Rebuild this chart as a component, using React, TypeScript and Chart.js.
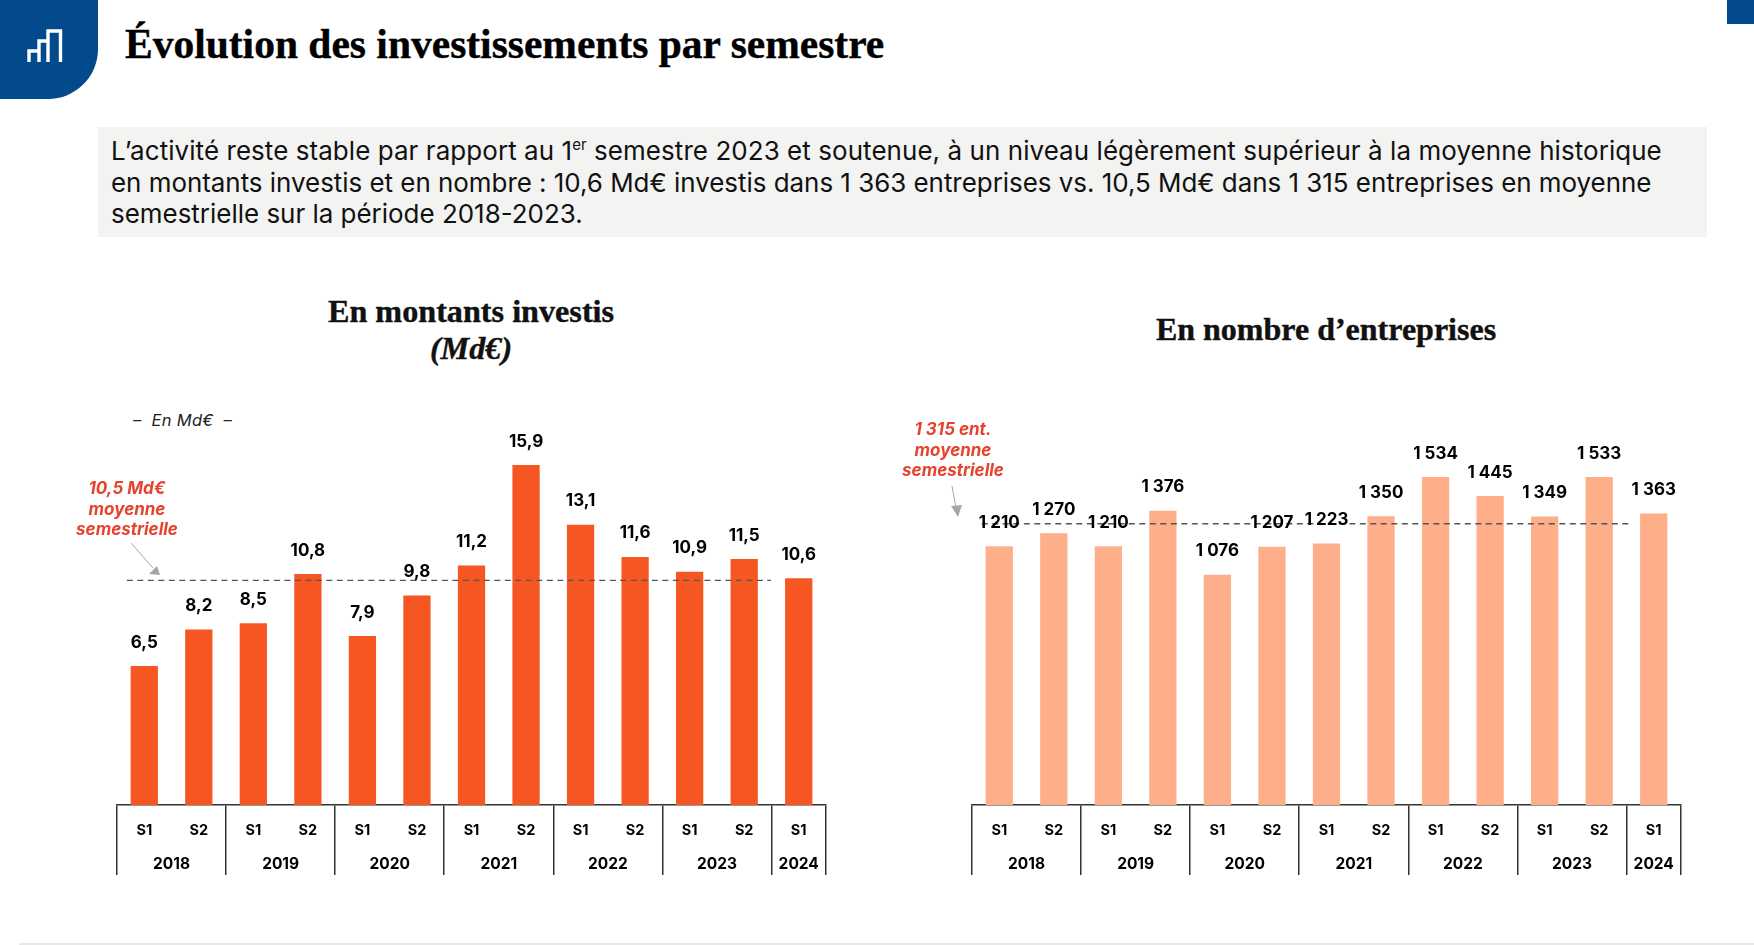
import React, { useEffect, useRef } from "react";
import { Chart, registerables } from "chart.js";

Chart.register(...registerables);

const semesters = ["S1","S2","S1","S2","S1","S2","S1","S2","S1","S2","S1","S2","S1"];
const years = ["2018","2019","2020","2021","2022","2023","2024"];
const semestersPerYear = [2,2,2,2,2,2,1];
const amounts = [6.5,8.2,8.5,10.8,7.9,9.8,11.2,15.9,13.1,11.6,10.9,11.5,10.6];
const companies = [1210,1270,1210,1376,1076,1207,1223,1350,1534,1445,1349,1533,1363];
const amountAverage = 10.5;
const companyAverage = 1315;
const amountAvgSpan = [-0.32, 11.49];
const companyAvgSpan = [-0.32, 11.55];

const UI = "Inter, 'Noto Sans', sans-serif";
const SERIF = "'Liberation Serif', serif";

const frAmount = (v: number) => v.toFixed(1).replace(".", ",");
const frCount = (v: number) => { const s = String(v); return s.length > 3 ? s.slice(0, -3) + " " + s.slice(-3) : s; };

function BarChart(props: { values: number[]; color: string; max: number; average: number; span: number[]; fmt: (v: number) => string; left: number; width: number; padLeft: number; padRight: number }) {
  const ref = useRef<HTMLCanvasElement | null>(null);
  useEffect(() => {
    const { values, color, max, average, span, fmt, padLeft, padRight } = props;
    const overlay = {
      id: "overlay",
      afterDatasetsDraw(chart: any) {
        const { ctx, scales } = chart;
        ctx.save();
        ctx.fillStyle = "#000";
        ctx.textAlign = "center";
        ctx.textBaseline = "middle";
        ctx.font = `700 17px ${UI}`;
        values.forEach((v, i) => {
          ctx.fillText(fmt(v), scales.x.getPixelForValue(i), scales.y.getPixelForValue(v) - 23.5);
        });
        ctx.font = `700 15.5px ${UI}`;
        let start = 0;
        const base = scales.y.getPixelForValue(0);
        years.forEach((y, k) => {
          const n = semestersPerYear[k];
          const mid = (scales.x.getPixelForValue(start) + scales.x.getPixelForValue(start + n - 1)) / 2;
          ctx.fillText(y, mid, base + 59);
          start += n;
        });
        ctx.restore();
      },
    };
    const chart = new Chart(ref.current!, {
      type: "bar",
      data: {
        labels: semesters,
        datasets: [
          { type: "line", order: 0, xAxisID: "xAvg", data: [{ x: span[0], y: average }, { x: span[1], y: average }], borderColor: "#555", borderWidth: 1.4, borderDash: [6, 4.5], pointRadius: 0, fill: false } as any,
          { type: "bar", order: 1, xAxisID: "x", grouped: false, data: values, backgroundColor: color, barPercentage: 0.5, categoryPercentage: 1 } as any,
        ],
      },
      options: {
        animation: false,
        responsive: false,
        layout: { autoPadding: false, padding: { left: padLeft, right: padRight, top: 0, bottom: 15 } },
        plugins: { legend: { display: false }, tooltip: { enabled: false } },
        scales: {
          x: {
            type: "category",
            offset: true,
            afterFit: (s: any) => { s.height = 70; },
            border: { display: true, color: "#333", width: 1.5 },
            grid: {
              offset: true,
              drawOnChartArea: false,
              drawTicks: true,
              tickLength: 70,
              lineWidth: 1.5,
              tickWidth: 1.5,
              tickColor: (c: any) => (c.index === undefined || c.index % 2 === 0 ? "#333" : "rgba(0,0,0,0)"),
            },
            ticks: { autoSkip: false, maxRotation: 0, padding: -53, color: "#000", font: { family: UI, size: 14.5, weight: 700 } },
          },
          xAvg: { type: "linear", display: false, offset: false, min: -0.5, max: 12.5 },
          y: { display: false, min: 0, max },
        },
      } as any,
      plugins: [overlay],
    });
    return () => chart.destroy();
  }, []);
  return <canvas ref={ref} width={props.width} height={470} style={{ position: "absolute", left: props.left, top: 420, width: props.width, height: 470 }} />;
}

const abs = (s: React.CSSProperties): React.CSSProperties => ({ position: "absolute", ...s });
const noteStyle: React.CSSProperties = { fontFamily: UI, fontStyle: "italic", fontWeight: 700, fontSize: 17, lineHeight: "20.5px", color: "#E5432E", textAlign: "center", width: 180 };
const headStroke: React.CSSProperties = { WebkitTextStroke: "0.4px currentColor" } as any;

export default function App() {
  useEffect(() => { document.body.style.margin = "0"; document.body.style.background = "#fff"; }, []);
  return (
    <div style={abs({ left: 0, top: 0, width: 1754, height: 945, overflow: "hidden", background: "#fff" })}>
      <div style={abs({ left: 0, top: 0, width: 98, height: 99, background: "#034A8C", borderBottomRightRadius: 50 })} />
      <svg style={abs({ left: 0, top: 0, width: 98, height: 99 })} viewBox="0 0 98 99">
        <path d="M29 62V51H39M39 62V41H48M48 62V31H60.5V62" fill="none" stroke="#fff" strokeWidth="3.4" />
      </svg>
      <div style={abs({ left: 1727, top: 0, width: 27, height: 24, background: "#034A8C" })} />
      <div style={abs({ left: 125, top: 17, fontFamily: SERIF, fontWeight: 700, fontSize: 41.5, lineHeight: "54px", color: "#000", whiteSpace: "nowrap", ...headStroke })}>Évolution des investissements par semestre</div>
      <div style={abs({ left: 98, top: 127, width: 1609, height: 110, background: "#F3F3F2" })} />
      <div style={abs({ left: 111, top: 135, fontFamily: UI, fontSize: 25.95, lineHeight: "31.7px", color: "#111", whiteSpace: "nowrap" })}>
        <div style={{ letterSpacing: "0.08px" }}>L’activité reste stable par rapport au 1<sup style={{ fontSize: 15, lineHeight: 0 }}>er</sup> semestre 2023 et soutenue, à un niveau légèrement supérieur à la moyenne historique</div>
        <div style={{ letterSpacing: "-0.02px" }}>en montants investis et en nombre : 10,6 Md€ investis dans 1 363 entreprises vs. 10,5 Md€ dans 1 315 entreprises en moyenne</div>
        <div>semestrielle sur la période 2018-2023.</div>
      </div>
      <div style={abs({ left: 171, top: 293, width: 600, textAlign: "center", fontFamily: SERIF, fontWeight: 700, fontSize: 32.2, lineHeight: "37px", color: "#111", ...headStroke })}>
        <div>En montants investis</div>
        <div style={{ fontStyle: "italic" }}>(Md€)</div>
      </div>
      <div style={abs({ left: 1026, top: 311, width: 600, textAlign: "center", fontFamily: SERIF, fontWeight: 700, fontSize: 32, lineHeight: "37px", color: "#111", ...headStroke })}>En nombre d’entreprises</div>
      <div style={abs({ left: 133, top: 410, fontFamily: UI, fontStyle: "italic", fontSize: 16.5, letterSpacing: "0.3px", lineHeight: "20px", color: "#222", whiteSpace: "pre" })}>{"–  En Md€  –"}</div>

      <BarChart values={amounts} color="#F65722" max={18} average={amountAverage} span={amountAvgSpan} fmt={frAmount} left={60} width={800} padLeft={57} padRight={34} />
      <BarChart values={companies} color="#FFAE8A" max={1800} average={companyAverage} span={companyAvgSpan} fmt={frCount} left={900} width={800} padLeft={72} padRight={19} />

      <div style={abs({ ...noteStyle, left: 37, top: 478 })}>10,5 Md€<br />moyenne<br />semestrielle</div>
      <div style={abs({ ...noteStyle, left: 863, top: 419 })}>1 315 ent.<br />moyenne<br />semestrielle</div>
      <svg style={abs({ left: 0, top: 0, width: 1754, height: 945, pointerEvents: "none" })} viewBox="0 0 1754 945">
        <line x1="131" y1="543" x2="153" y2="568" stroke="#A6A6A6" strokeWidth="1" />
        <polygon points="160,575 149,574 157,566" fill="#A6A6A6" />
        <line x1="952" y1="486" x2="956" y2="508" stroke="#A6A6A6" strokeWidth="1" />
        <polygon points="958,517 951,506 962,505" fill="#A6A6A6" />
      </svg>
      <div style={abs({ left: 19, top: 943, width: 1735, height: 2, background: "#E8E8E8" })} />
    </div>
  );
}
